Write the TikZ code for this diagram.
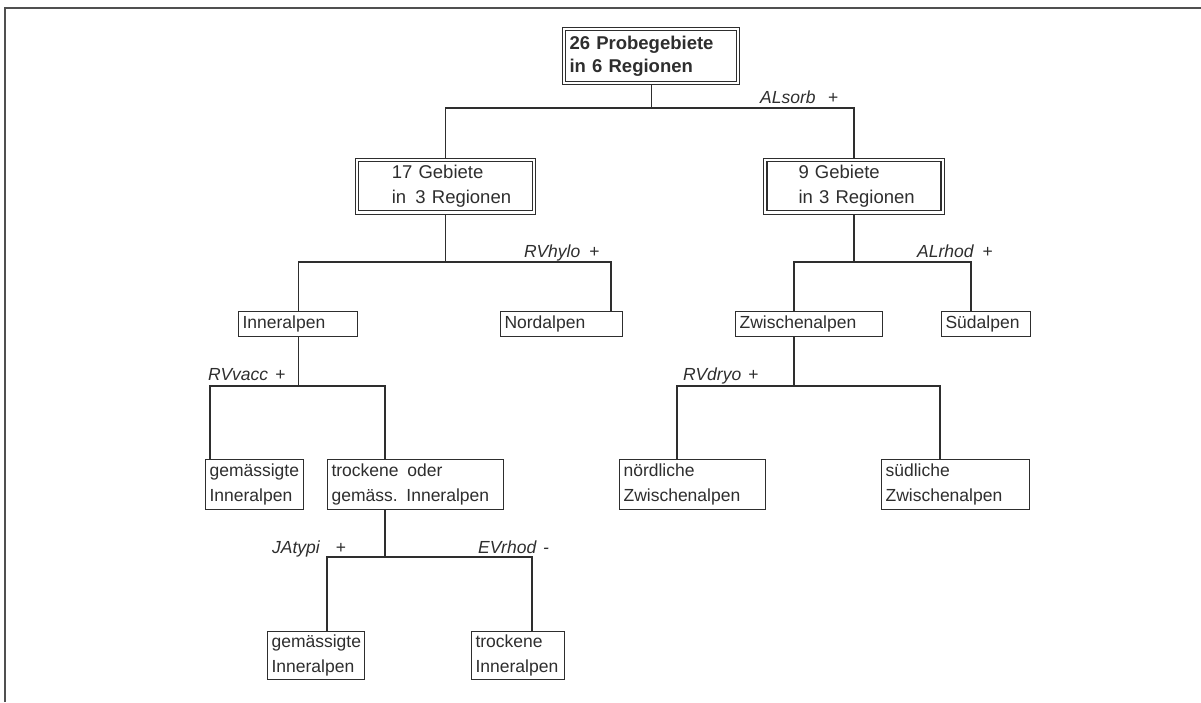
\documentclass[tikz,border=0pt]{standalone}
\usepackage{fontspec}
\setmainfont{Liberation Sans}
\usetikzlibrary{backgrounds}
\definecolor{ink}{HTML}{2E2E2E}
\definecolor{framecol}{HTML}{505050}
\begin{document}
\begin{tikzpicture}[x=1pt,y=-1pt,
  conn/.style={draw=ink, line width=1.1pt},
  box/.style={draw=ink, line width=1.1pt, fill=white, text=ink, anchor=north west,
    inner xsep=4pt, inner ysep=0pt, align=left, font=\fontsize{17.5}{25}\selectfont},
  obox/.style={draw=ink, line width=1.1pt, fill=white, anchor=north west, inner sep=0pt},
  ibox/.style={draw=ink, line width=1.1pt, text=ink, anchor=center,
    inner xsep=4pt, inner ysep=0pt, align=left},
  lab/.style={anchor=base west, inner sep=0pt, text=ink, font=\fontsize{17.5}{20}\selectfont\itshape},
  framestyle/.style={draw=framecol, line width=2pt}
]
\useasboundingbox (0,0) rectangle (1201,702);
\draw[framestyle] (5,702) -- (5,8) -- (1201,8);

% level 0 / 1 (double-framed boxes: outer frame + inner text box)
\node[obox, minimum width=177.6pt, minimum height=57.6pt] (root) at (561.7,26.7) {};
\node[ibox, minimum width=171pt, minimum height=51pt, text width=163pt,
  font=\fontsize{18.5}{23}\selectfont\bfseries] (rootT) at (root.center) {26 Probegebiete\\in 6 Regionen};

\node[obox, minimum width=180.5pt, minimum height=56pt] (g17) at (354.5,157.5) {};
\node[ibox, minimum width=174pt, minimum height=49.4pt, text width=166pt,
  font=\fontsize{18.5}{25}\selectfont] (g17T) at (g17.center) {\hspace*{29.5pt}17 Gebiete\\\hspace*{29.5pt}in\enspace 3 Regionen};

\node[obox, minimum width=180.5pt, minimum height=56pt] (g9) at (763.2,157.5) {};
\node[ibox, minimum width=174pt, minimum height=49.4pt, text width=166pt,
  font=\fontsize{18.5}{25}\selectfont] (g9T) at (g9.center) {\hspace*{27.5pt}9 Gebiete\\\hspace*{27.5pt}in 3 Regionen};

% level 2
\node[box, minimum width=119pt, text width=111pt, minimum height=25pt] (inner) at (238,311) {Inneralpen};
\node[box, minimum width=122pt, text width=114pt, minimum height=25pt] (nord) at (500,311) {Nordalpen};
\node[box, minimum width=147pt, text width=139pt, minimum height=25pt] (zw) at (735,311) {Zwischenalpen};
\node[box, minimum width=89pt, text width=81pt, minimum height=25pt] (sud) at (941,311) {Südalpen};

% level 3
\node[box, minimum width=98pt, text width=90pt, minimum height=50pt] (gemL) at (205,459) {gemässigte\\Inneralpen};
\node[box, minimum width=176pt, text width=168pt, minimum height=50pt] (trock) at (327,459) {trockene\enspace oder\\gemäss.\enspace Inneralpen};
\node[box, minimum width=146pt, text width=138pt, minimum height=50pt] (noerd) at (619,459) {nördliche\\Zwischenalpen};
\node[box, minimum width=148pt, text width=140pt, minimum height=50pt] (sued) at (881,459) {südliche\\Zwischenalpen};

% level 4
\node[box, minimum width=97pt, text width=89pt, minimum height=48pt] (gemB) at (267,631) {gemässigte\\Inneralpen};
\node[box, minimum width=93pt, text width=85pt, minimum height=48pt] (trockB) at (471,631) {trockene\\Inneralpen};

% split levels
\coordinate (b0) at (0,108);
\coordinate (b1) at (0,262);
\coordinate (b2) at (0,386);
\coordinate (b3) at (0,557);

\begin{scope}[on background layer]
\draw[conn] (root.south) -- (root.south |- b0);
\draw[conn] (g17.north) |- (root.south |- b0);
\draw[conn] (g9.north) |- (root.south |- b0);

\draw[conn] (g17.south) -- (g17.south |- b1);
\draw[conn] (inner.north) |- (g17.south |- b1);
\draw[conn] ([xshift=111pt]nord.north west) |- (g17.south |- b1);

\draw[conn] (g9.south) -- (g9.south |- b1);
\draw[conn] ([xshift=59pt]zw.north west) |- (g9.south |- b1);
\draw[conn] ([xshift=30pt]sud.north west) |- (g9.south |- b1);

\draw[conn] (inner.south) -- (inner.south |- b2);
\draw[conn] ([xshift=5pt]gemL.north west) |- (inner.south |- b2);
\draw[conn] ([xshift=58pt]trock.north west) |- (inner.south |- b2);

\draw[conn] ([xshift=59pt]zw.south west) -- ([xshift=59pt]zw.south west |- b2);
\draw[conn] ([xshift=58pt]noerd.north west) |- ([xshift=59pt]zw.south west |- b2);
\draw[conn] ([xshift=59pt]sued.north west) |- ([xshift=59pt]zw.south west |- b2);

\draw[conn] ([xshift=58pt]trock.south west) -- ([xshift=58pt]trock.south west |- b3);
\draw[conn] ([xshift=60pt]gemB.north west) |- ([xshift=58pt]trock.south west |- b3);
\draw[conn] ([xshift=61pt]trockB.north west) |- ([xshift=58pt]trock.south west |- b3);
\end{scope}

% split labels
\node[lab] (lALsorb) at (760,103) {ALsorb\hspace{0.7em}+};
\node[lab] (lRVhylo) at (524,257) {RVhylo\hspace{0.5em}+};
\node[lab] (lALrhod) at (917,257) {ALrhod\hspace{0.5em}+};
\node[lab] (lRVvacc) at (208,380) {RVvacc\hspace{0.4em}+};
\node[lab] (lRVdryo) at (683,380) {RVdryo\hspace{0.4em}+};
\node[lab] (lJAtypi) at (272,553) {JAtypi\hspace{0.9em}+};
\node[lab] (lEVrhod) at (478,553) {EVrhod\hspace{0.4em}-};
\end{tikzpicture}
\end{document}
